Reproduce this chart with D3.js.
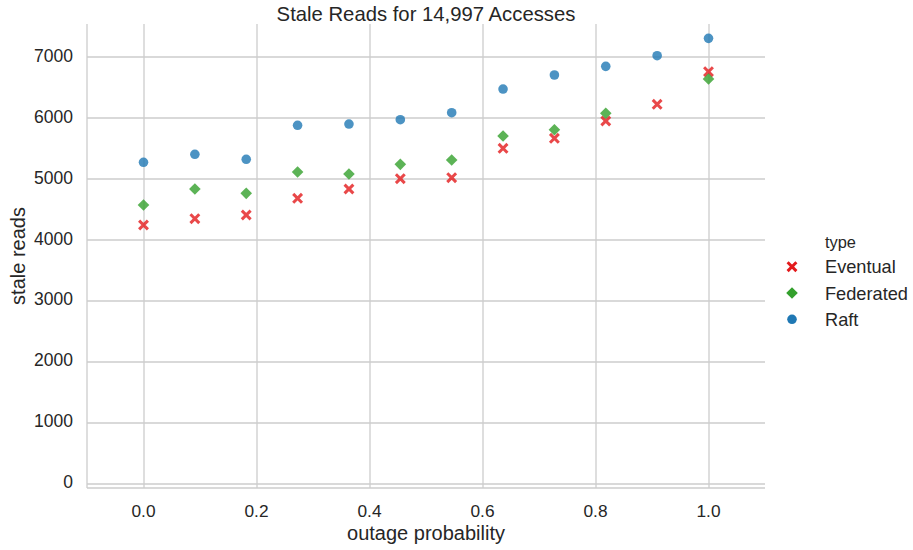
<!DOCTYPE html>
<html>
<head>
<meta charset="utf-8">
<script src="https://cdn.jsdelivr.net/npm/d3@7"></script>
<style>
    body { margin: 0; background: #fff; }
    text { font-family: "Liberation Sans", Arial, sans-serif; fill: #262626; }
</style>
</head>
<body>
<div id="chart"></div>
<script>
// outage probability steps (i / 11)
const outageProb = [0, 1/11, 2/11, 3/11, 4/11, 5/11, 6/11, 7/11, 8/11, 9/11, 10/11, 1];
const eventualReads = [4238, 4341, 4402, 4675, 4828, 4997, 5013, 5495, 5659, 5943, 6216, 6751];
const federatedReads = [4566, 4828, 4757, 5107, 5074, 5232, 5303, 5697, 5800, 6069, null, 6631];
const raftReads = [5266, 5397, 5315, 5872, 5893, 5964, 6079, 6467, 6697, 6839, 7013, 7298];
const seriesNames = ["Eventual", "Federated", "Raft"];
const xTicks = [0, 0.2, 0.4, 0.6, 0.8, 1.0];
const yTicks = [0, 1000, 2000, 3000, 4000, 5000, 6000, 7000];

function init() {
    const w = 913;
    const h = 550;
    const left = 87, right = 765, top = 24, bottom = 488;

    const colors = { Eventual: "#e31a1c", Federated: "#33a02c", Raft: "#1f78b4" };
    const values = { Eventual: eventualReads, Federated: federatedReads, Raft: raftReads };

    const xScale = d3.scaleLinear().domain([-0.1, 1.1]).range([left, right]);
    const yScale = d3.scaleLinear().domain([-74, 7533]).range([bottom, top]);

    const svg = d3.select("#chart").append("svg")
        .attr("width", w)
        .attr("height", h);

    // gridlines
    svg.append("g")
        .attr("transform", `translate(0,${bottom})`)
        .call(d3.axisBottom(xScale).tickValues(xTicks).tickSize(-(bottom - top)).tickFormat(""))
        .call(g => g.select(".domain").remove())
        .selectAll("line").attr("stroke", "#cccccc").attr("stroke-width", 1.3);

    svg.append("g")
        .attr("transform", `translate(${left},0)`)
        .call(d3.axisLeft(yScale).tickValues(yTicks).tickSize(-(right - left)).tickFormat(""))
        .call(g => g.select(".domain").remove())
        .selectAll("line").attr("stroke", "#cccccc").attr("stroke-width", 1.3);

    // spines (left + bottom only)
    svg.append("line").attr("x1", left).attr("x2", left).attr("y1", top).attr("y2", bottom)
        .attr("stroke", "#cccccc").attr("stroke-width", 1.3);
    svg.append("line").attr("x1", left).attr("x2", right).attr("y1", bottom).attr("y2", bottom)
        .attr("stroke", "#cccccc").attr("stroke-width", 1.3);

    // tick labels
    svg.append("g").selectAll("text")
        .data(xTicks).enter().append("text")
        .attr("x", d => xScale(d))
        .attr("y", 516.5)
        .attr("text-anchor", "middle")
        .attr("font-size", "17.3px")
        .text(d => d.toFixed(1));

    svg.append("g").selectAll("text")
        .data(yTicks).enter().append("text")
        .attr("x", 73)
        .attr("y", d => yScale(d) + 5)
        .attr("text-anchor", "end")
        .attr("font-size", "17.5px")
        .text(d => d);

    // axis labels + title
    svg.append("text")
        .attr("x", (left + right) / 2).attr("y", 540)
        .attr("text-anchor", "middle").attr("font-size", "20px")
        .text("outage probability");

    svg.append("text")
        .attr("transform", `translate(25,${(top + bottom) / 2}) rotate(-90)`)
        .attr("text-anchor", "middle").attr("font-size", "20px")
        .text("stale reads");

    svg.append("text")
        .attr("x", (left + right) / 2).attr("y", 20.5)
        .attr("text-anchor", "middle").attr("font-size", "20.3px")
        .text("Stale Reads for 14,997 Accesses");

    // marker shapes
    const xMark = "M-4.4,-4.4L4.4,4.4M-4.4,4.4L4.4,-4.4";
    const diamond = "M0,-5.8L5.8,0L0,5.8L-5.8,0Z";

    function drawMarker(g, name, cx, cy, opacity) {
        if (name === "Eventual") {
            g.append("path").attr("d", xMark)
                .attr("transform", `translate(${cx},${cy})`)
                .attr("stroke", colors[name]).attr("stroke-width", 3)
                .attr("fill", "none").attr("opacity", opacity);
        } else if (name === "Federated") {
            g.append("path").attr("d", diamond)
                .attr("transform", `translate(${cx},${cy})`)
                .attr("fill", colors[name]).attr("opacity", opacity);
        } else {
            g.append("circle").attr("cx", cx).attr("cy", cy).attr("r", 4.8)
                .attr("fill", colors[name]).attr("opacity", opacity);
        }
    }

    // points
    seriesNames.forEach(name => {
        const g = svg.append("g").attr("class", "series");
        outageProb.forEach((p, i) => {
            const v = values[name][i];
            if (v == null) return;
            drawMarker(g, name, xScale(p), yScale(v), 0.8);
        });
    });

    // legend
    const legend = svg.append("g").attr("class", "legend");
    legend.append("text").attr("x", 825).attr("y", 248)
        .attr("font-size", "16.4px").text("type");
    seriesNames.forEach((name, i) => {
        const y = 266.7 + i * 26.3;
        drawMarker(legend, name, 792, y, 1);
        legend.append("text").attr("x", 825).attr("y", y + 6.5)
            .attr("font-size", "18.2px").text(name);
    });
}

window.onload = init;
</script>
</body>
</html>
